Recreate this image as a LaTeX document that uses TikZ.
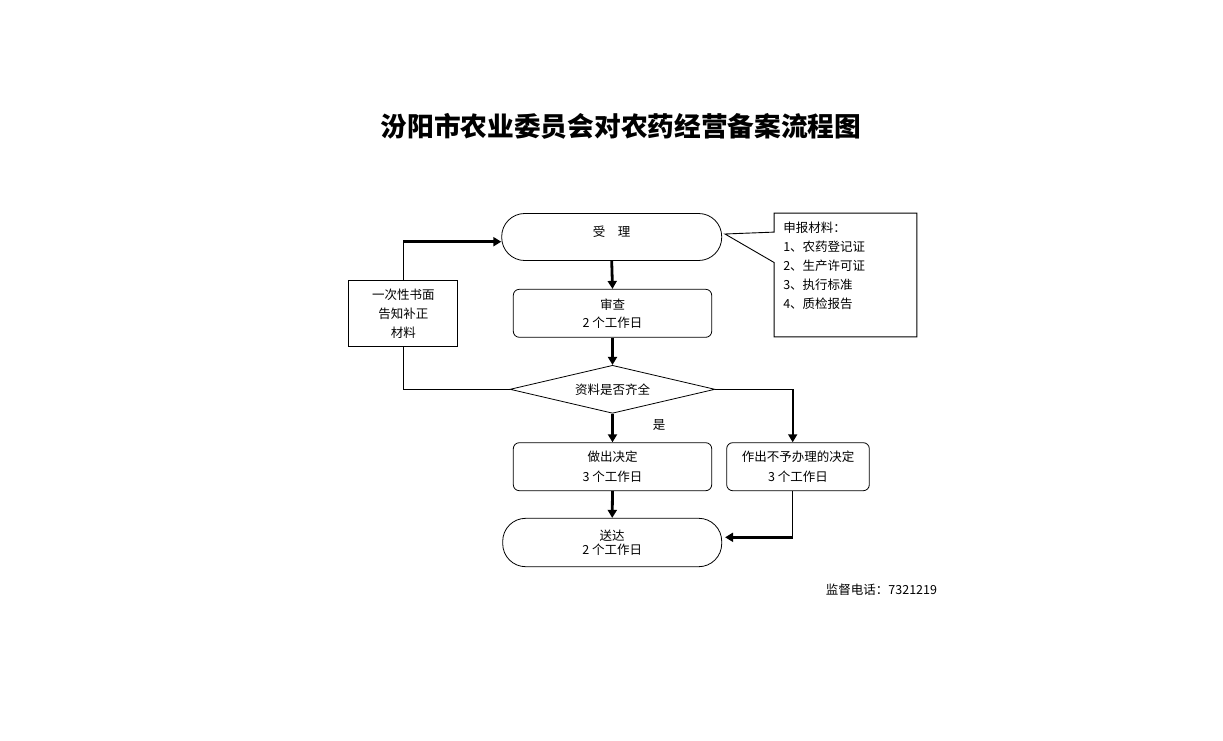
\documentclass[tikz,border=0pt]{standalone}
\usepackage{fontspec}
\setmainfont{Noto Sans CJK SC}
\usepackage{tikz}
\usetikzlibrary{calc,arrows.meta,shapes.geometric}
\tikzset{
  termbox/.style={draw, line width=0.8pt, rounded corners=23pt, align=center, font=\fontsize{12.5}{14}\selectfont},
  stepbox/.style={draw, line width=0.8pt, rounded corners=6pt, minimum height=48pt, align=center, font=\fontsize{12.5}{20}\selectfont},
  decision/.style={draw, diamond, aspect=4.27, inner sep=0pt, minimum width=205pt, minimum height=48pt, line width=0.8pt, font=\fontsize{12.5}{14}\selectfont},
  notebox/.style={draw, line width=0.8pt, minimum width=109pt, minimum height=66pt, align=center, font=\fontsize{12.5}{19}\selectfont},
  mainarrow/.style={-{Triangle[length=8pt,width=9pt]}, line width=2.8pt},
  midarrow/.style={-{Triangle[length=8pt,width=9pt]}, line width=1.6pt},
  thinline/.style={line width=0.9pt},
  lab/.style={font=\fontsize{12.5}{18.8}\selectfont},
  title/.style={font=\bfseries\fontsize{26.7}{30}\selectfont}
}
\begin{document}
\begin{tikzpicture}[x=1pt,y=-1pt]
  % page, 1 unit = 1 px of the reference
  \fill[white] (0,0) rectangle (1223,741);
  \useasboundingbox (0,0) rectangle (1223,741);

  \node[title] (head) at (621,126) {汾阳市农业委员会对农药经营备案流程图};

  % main column
  \node[termbox, minimum width=220pt, minimum height=47pt, text depth=11pt] (accept) at (611.7,237) {受\hspace{1em}理};
  \node[stepbox, minimum width=198.4pt, font=\fontsize{12.5}{18}\selectfont] (review) at (612.5,313.3) {审查\\2 个工作日};
  \node[decision] (check) at (612.5,389.3) {资料是否齐全};
  \node[stepbox, minimum width=198.4pt] (decide) at (612.5,466.7) {做出决定\\3 个工作日};
  \node[termbox, minimum width=219pt, minimum height=48.4pt] (deliver) at (612.2,542.5) {送达\\2 个工作日};
  \node[lab] (yes) at (659,425) {是};

  % right branch
  \node[stepbox, minimum width=142.6pt] (refuse) at (798,466.7) {作出不予办理的决定\\3 个工作日};

  % left branch
  \node[notebox] (notice) at (403.3,313.7) {一次性书面\\告知补正\\材料};

  % callout with the list of papers
  \node[minimum width=142.4pt, minimum height=123.4pt, inner sep=0pt] (list) at (845.5,275) {};
  \node[lab, anchor=north west, align=left, inner sep=0pt] (listtext) at ($(list.north west)+(9,9)$)
    {申报材料：\\1、农药登记证\\2、生产许可证\\3、执行标准\\4、质检报告};
  \coordinate (tip) at (725,234);
  \draw[thinline] (list.north west) -- ($(list.north west)+(0,19)$) -- (tip)
    -- ($(list.north west)+(0,49.4)$) -- (list.south west) -- (list.south east)
    -- (list.north east) -- cycle;

  \node[lab] (phone) at (881.5,590) {监督电话：7321219};

  % connectors
  \draw[mainarrow] (accept.south) -- (review.north);
  \draw[mainarrow] (review.south) -- (check.north);
  \draw[mainarrow] (check.south) -- (decide.north);
  \draw[mainarrow] (decide.south) -- (deliver.north);

  \coordinate (turnR) at (792.7,389.3);
  \coordinate (turnD) at (792.7,537.3);
  \draw[thinline] (check.east) -- (turnR);
  \draw[midarrow] (turnR) -- (turnR |- refuse.north);
  \draw[thinline] (turnD |- refuse.south) -- (turnD);
  \draw[mainarrow, shorten >=3pt] (turnD) -- (turnD -| deliver.east);

  \coordinate (turnUL) at (403.3,241.7);
  \coordinate (turnDL) at (403.3,389.3);
  \draw[thinline] (notice.north) -- (turnUL);
  \draw[mainarrow] (turnUL) -- (turnUL -| accept.west);
  \draw[thinline] (notice.south) -- (turnDL) -- (check.west);
\end{tikzpicture}
\end{document}
